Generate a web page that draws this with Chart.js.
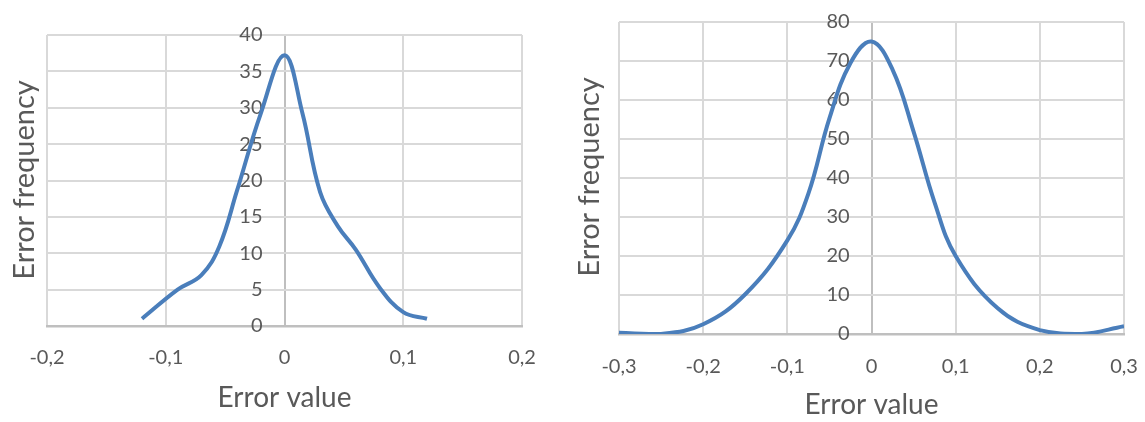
<!DOCTYPE html>
<html>
<head>
<meta charset="utf-8">
<script src="https://cdn.jsdelivr.net/npm/chart.js@4/dist/chart.umd.min.js"></script>
<style>
  body { margin: 0; background: #fff; overflow: hidden; }
  #leftBox { position: absolute; left: 0; top: 0; }
  #rightBox { position: absolute; left: 560px; top: 0; }
  canvas { display: block; }
</style>
</head>
<body>
<div id="leftBox"><canvas id="leftChart" width="560" height="422"></canvas></div>
<div id="rightBox"><canvas id="rightChart" width="585" height="422"></canvas></div>
<script>
// Left chart data (error value vs frequency)
var errLeft = [-0.12, -0.09, -0.07, -0.055, -0.04, -0.02, 0, 0.015, 0.03, 0.045, 0.06, 0.08, 0.1, 0.12];
var freqLeft = [1, 5, 7, 10.9, 18.6, 29.2, 37.2, 29.3, 18.4, 13.7, 10.5, 5.3, 1.9, 1];

// Right chart data
var errRight = [-0.3, -0.25, -0.2, -0.15, -0.1, -0.075, -0.05, -0.025, 0, 0.025, 0.05, 0.075, 0.1, 0.15, 0.2, 0.25, 0.3];
var freqRight = [0.3, 0, 2.5, 10.2, 24, 36, 55.3, 69.5, 75, 67.8, 51.9, 33.7, 20, 6.6, 1, 0, 2];

var xTitle = 'Error value';
var yTitle = 'Error frequency';

var textColor = '#595959';
var fontName = 'Lato, Calibri, sans-serif';

function toPoints(xs, ys) {
  return xs.map(function(x, i) {
    return { x: x, y: ys[i] };
  });
}

function commaLabel(value) {
  var v = Math.round(value * 10) / 10;
  return String(v).replace('.', ',');
}

// draws the rotated y title at the left side of the canvas
function yTitlePlugin(x, y) {
  return {
    id: 'yTitle',
    afterDraw: function(chart) {
      var ctx = chart.ctx;
      ctx.save();
      ctx.translate(x, y);
      ctx.rotate(-Math.PI / 2);
      ctx.font = '29px ' + fontName;
      ctx.fillStyle = textColor;
      ctx.textAlign = 'center';
      ctx.textBaseline = 'alphabetic';
      ctx.fillText(yTitle, 0, 0);
      ctx.restore();
    }
  };
}

function makeChart(id, xs, ys, opts) {
  var ctx = document.getElementById(id).getContext('2d');
  return new Chart(ctx, {
    type: 'scatter',
    data: {
      datasets: [{
        data: toPoints(xs, ys),
        showLine: true,
        borderColor: '#4a7ebb',
        borderWidth: 4,
        pointRadius: 0,
        tension: 0.4
      }]
    },
    options: {
      responsive: false,
      animation: false,
      layout: { padding: opts.padding },
      plugins: { legend: { display: false }, tooltip: { enabled: false } },
      scales: {
        x: {
          type: 'linear',
          position: 'bottom',
          min: opts.xMin,
          max: opts.xMax,
          ticks: {
            stepSize: 0.1,
            color: textColor,
            font: { family: fontName, size: 20 },
            padding: 2,
            maxRotation: 0,
            callback: commaLabel
          },
          grid: {
            // invisible tick marks keep the labels away from the axis
            drawTicks: true,
            tickLength: opts.xTickGap,
            tickColor: 'rgba(0,0,0,0)',
            lineWidth: 2,
            color: function(c) {
              return c.tick && Math.abs(c.tick.value) < 1e-9 ? '#bfbfbf' : '#d9d9d9';
            }
          },
          border: { color: '#bfbfbf', width: 2.5 },
          title: {
            display: true,
            text: xTitle,
            color: textColor,
            font: { family: fontName, size: 28 },
            padding: { top: 0, bottom: opts.xTitlePad }
          },
          afterFit: function(scale) {
            scale.height = opts.xHeight;
          }
        },
        y: {
          position: { x: opts.yLabelAt },
          min: 0,
          max: opts.yMax,
          ticks: {
            stepSize: opts.yStep,
            color: textColor,
            font: { family: fontName, size: 20 }
          },
          grid: { drawTicks: false, lineWidth: 2, color: '#d9d9d9' },
          border: { display: false }
        }
      }
    },
    plugins: [yTitlePlugin(opts.yTitleX, opts.yTitleY)]
  });
}

makeChart('leftChart', errLeft, freqLeft, {
  padding: { left: 47, right: 38, top: 35, bottom: 0 },
  xMin: -0.2, xMax: 0.2,
  yMax: 40, yStep: 5,
  yLabelAt: -0.0185,
  xTickGap: 18, xTitlePad: 7, xHeight: 96,
  yTitleX: 34, yTitleY: 180
});

makeChart('rightChart', errRight, freqRight, {
  padding: { left: 59, right: 21, top: 22, bottom: 0 },
  xMin: -0.3, xMax: 0.3,
  yMax: 80, yStep: 10,
  yLabelAt: -0.026,
  xTickGap: 19, xTitlePad: 0, xHeight: 88,
  yTitleX: 39, yTitleY: 177
});
</script>
</body>
</html>
